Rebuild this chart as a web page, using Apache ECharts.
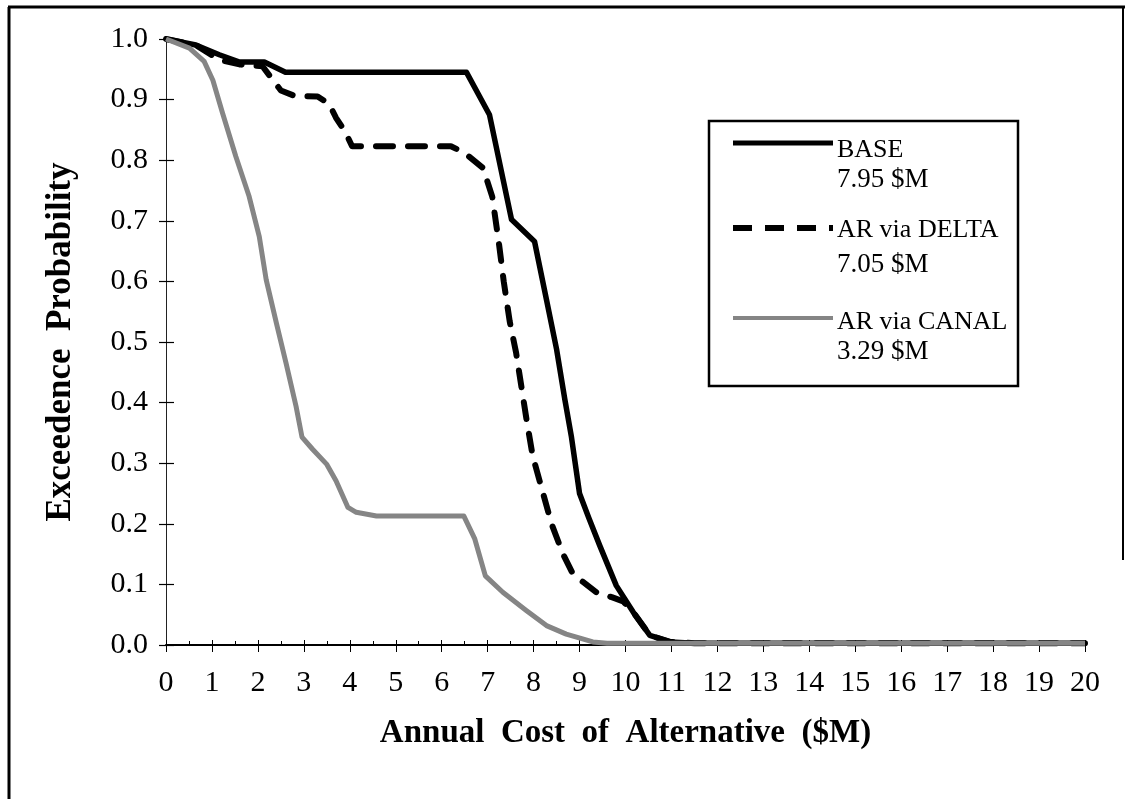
<!DOCTYPE html>
<html>
<head>
<meta charset="utf-8">
<title>Exceedence Probability of Annual Cost</title>
<script src="https://cdn.jsdelivr.net/npm/echarts@6/dist/echarts.min.js"></script>
<style>
  html, body { margin: 0; padding: 0; background: #ffffff; }
  #chart { width: 1125px; height: 799px; }
</style>
</head>
<body>
<div id="chart"></div>
<script>
// Exceedence curves: [annual cost ($M), probability]
const baseCurve = [
  [0, 1.0], [0.65, 0.99], [1.16, 0.974], [1.6, 0.962], [2.14, 0.962], [2.6, 0.945],
  [6.54, 0.945], [7.04, 0.875], [7.52, 0.702], [8.02, 0.666], [8.28, 0.57],
  [8.5, 0.488], [8.68, 0.405], [8.82, 0.345], [9.0, 0.25], [9.2, 0.21],
  [9.44, 0.164], [9.8, 0.098], [10.17, 0.054], [10.53, 0.016], [10.97, 0.005],
  [11.5, 0.003], [20, 0.003]
];
const deltaCurve = [
  [0, 1.0], [0.65, 0.99], [1.15, 0.966], [1.6, 0.958], [2.1, 0.955], [2.5, 0.915],
  [2.8, 0.906], [3.3, 0.905], [3.55, 0.893], [3.7, 0.87], [3.9, 0.847], [4.05, 0.823],
  [6.2, 0.823], [6.5, 0.812], [6.9, 0.787], [7.1, 0.74], [7.25, 0.66], [7.35, 0.6],
  [7.48, 0.534], [7.62, 0.482], [7.84, 0.375], [7.98, 0.312], [8.2, 0.252],
  [8.39, 0.2], [8.64, 0.15], [8.85, 0.118], [9.04, 0.106], [9.4, 0.085],
  [9.7, 0.079], [9.95, 0.072], [10.17, 0.054], [10.53, 0.016], [10.97, 0.005],
  [11.5, 0.003], [20, 0.003]
];
const canalCurve = [
  [0, 1.0], [0.51, 0.985], [0.83, 0.963], [1.02, 0.932], [1.23, 0.878], [1.52, 0.806],
  [1.81, 0.74], [2.03, 0.674], [2.18, 0.603], [2.4, 0.532], [2.61, 0.466],
  [2.83, 0.394], [2.96, 0.343], [3.19, 0.323], [3.5, 0.298], [3.7, 0.271],
  [3.96, 0.227], [4.14, 0.219], [4.58, 0.213], [6.48, 0.213], [6.72, 0.175],
  [6.95, 0.114], [7.33, 0.087], [7.84, 0.057], [8.28, 0.032], [8.71, 0.018],
  [9.29, 0.005], [9.6, 0.003], [20, 0.003]
];

const seriesNames = ['BASE', 'AR via DELTA', 'AR via CANAL'];
const meanCosts = ['7.95 $M', '7.05 $M', '3.29 $M'];

const xTitle = 'Annual  Cost  of  Alternative  ($M)';
const yTitle = 'Exceedence  Probability';

const SERIF = '"Liberation Serif", "DejaVu Serif", serif';

const chart = echarts.init(document.getElementById('chart'), null, { renderer: 'canvas' });

// legend box drawn as graphics: sample line + two-line caption per series
const legendX = 733, legendLineW = 100, textX = 837;
const legendRows = [
  { y: 143, t1: 150, t2: 180, style: { stroke: '#000', lineWidth: 5 } },
  { y: 228, t1: 230, t2: 265, style: { stroke: '#000', lineWidth: 6, lineDash: [19, 13] } },
  { y: 318, t1: 322, t2: 352, style: { stroke: '#858585', lineWidth: 4 } }
];
const legendGraphics = [{
  type: 'rect',
  shape: { x: 709, y: 121, width: 309, height: 265 },
  style: { fill: '#fff', stroke: '#000', lineWidth: 2.5 },
  z: 100
}];
legendRows.forEach((row, i) => {
  legendGraphics.push({
    type: 'line',
    shape: { x1: legendX, y1: row.y, x2: legendX + legendLineW, y2: row.y },
    style: row.style,
    z: 101
  });
  legendGraphics.push({
    type: 'text', x: textX, y: row.t1, z: 101,
    style: { text: seriesNames[i], font: '26px ' + SERIF, fill: '#000', verticalAlign: 'middle' }
  });
  legendGraphics.push({
    type: 'text', x: textX, y: row.t2, z: 101,
    style: { text: meanCosts[i], font: '27px ' + SERIF, fill: '#000', verticalAlign: 'middle' }
  });
});

// outer frame
const frameGraphics = [
  { type: 'line', shape: { x1: 9, y1: 7, x2: 9, y2: 799 }, style: { stroke: '#000', lineWidth: 3 } },
  { type: 'line', shape: { x1: 8, y1: 7, x2: 1125, y2: 7 }, style: { stroke: '#000', lineWidth: 3 } },
  { type: 'line', shape: { x1: 1123, y1: 7, x2: 1123, y2: 560 }, style: { stroke: '#000', lineWidth: 2 } }
];

const tickLabelStyle = { fontFamily: SERIF, fontSize: 30, color: '#000' };

const option = {
  animation: false,
  backgroundColor: '#fff',
  grid: { left: 166, right: 40, top: 39, bottom: 154, containLabel: false },
  xAxis: [
    {
      type: 'value', min: 0, max: 20, interval: 1,
      name: xTitle, nameLocation: 'middle', nameGap: 72,
      nameTextStyle: { fontFamily: SERIF, fontSize: 33, fontWeight: 'bold', color: '#000' },
      axisLine: { show: true, onZero: false, lineStyle: { color: '#000', width: 2 } },
      axisTick: { show: true, inside: false, length: 7, lineStyle: { color: '#000', width: 1 } },
      axisLabel: Object.assign({ margin: 23 }, tickLabelStyle),
      splitLine: { show: false }
    },
    {
      type: 'value', min: 0, max: 20, interval: 1, position: 'bottom', offset: 0,
      axisLine: { show: false },
      axisTick: { show: true, inside: true, length: 5, lineStyle: { color: '#000', width: 1 } },
      minorTick: { show: true, splitNumber: 2, length: 4, lineStyle: { color: '#000', width: 1 } },
      axisLabel: { show: false },
      splitLine: { show: false }
    }
  ],
  yAxis: [
    {
      type: 'value', min: 0, max: 1, interval: 0.1,
      name: yTitle, nameLocation: 'middle', nameGap: 88, nameRotate: 90,
      nameTextStyle: { fontFamily: SERIF, fontSize: 35, fontWeight: 'bold', color: '#000' },
      axisLine: { show: true, lineStyle: { color: '#222', width: 1 } },
      axisTick: { show: true, inside: false, length: 7, lineStyle: { color: '#000', width: 1.2 } },
      axisLabel: Object.assign({ margin: 18, formatter: v => v.toFixed(1) }, tickLabelStyle),
      splitLine: { show: false }
    },
    {
      type: 'value', min: 0, max: 1, interval: 0.1, position: 'left', offset: 0,
      axisLine: { show: false },
      axisTick: { show: true, inside: true, length: 8, lineStyle: { color: '#000', width: 1.2 } },
      axisLabel: { show: false },
      splitLine: { show: false }
    }
  ],
  series: [
    {
      name: seriesNames[0], type: 'line', data: baseCurve, showSymbol: false, symbol: 'none',
      xAxisIndex: 0, yAxisIndex: 0, z: 3,
      lineStyle: { color: '#000', width: 5.5, join: 'round' }
    },
    {
      name: seriesNames[1], type: 'line', data: deltaCurve, showSymbol: false, symbol: 'none',
      xAxisIndex: 0, yAxisIndex: 0, z: 2,
      lineStyle: { color: '#000', width: 6, type: [17, 15], cap: 'round', join: 'round' }
    },
    {
      name: seriesNames[2], type: 'line', data: canalCurve, showSymbol: false, symbol: 'none',
      xAxisIndex: 0, yAxisIndex: 0, z: 4,
      lineStyle: { color: '#858585', width: 5, join: 'round' }
    }
  ],
  graphic: frameGraphics.concat(legendGraphics)
};

chart.setOption(option);
</script>
</body>
</html>
